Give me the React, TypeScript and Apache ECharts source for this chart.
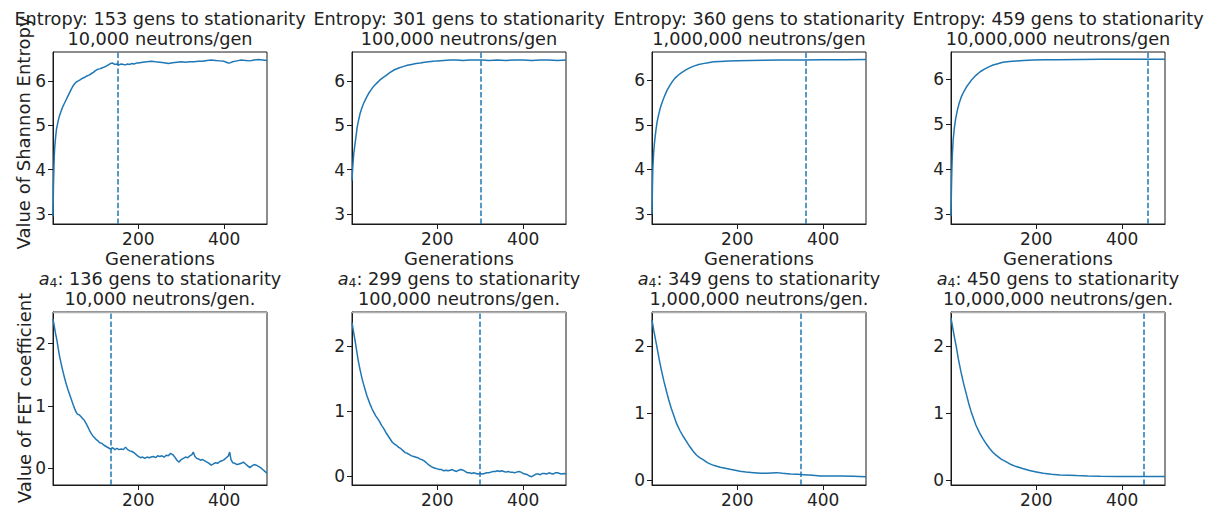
import React, { useEffect, useRef } from "react";
import * as echarts from "echarts";

// ---------- data ----------
const NEUTRONS = ["10,000", "100,000", "1,000,000", "10,000,000"];
const ENTROPY_STAT = [153, 301, 360, 459];
const A4_STAT = [136, 299, 349, 450];
const X_TICKS = [200, 400];
const TOP_TICKS = [3, 4, 5, 6];
const BOTTOM_TICKS = [0, 1, 2];

// Entropy, 10,000 neutrons/gen
const GEN_E1 = [1, 2, 3, 4, 5, 7, 9, 12, 16, 20, 24, 28, 32, 36, 40, 44, 48, 52, 56, 60, 65, 70, 75, 80, 85, 90, 95, 100, 105, 110, 115, 120, 125, 130, 135, 140, 145, 150, 155, 160, 165, 170, 175, 180, 185, 190, 195, 200, 210, 220, 230, 240, 250, 260, 270, 280, 290, 300, 310, 320, 330, 340, 350, 360, 370, 380, 390, 400, 405, 410, 415, 420, 430, 440, 450, 460, 470, 480, 490, 500];
const VAL_E1 = [2.95, 3.6, 4.0, 4.3, 4.5, 4.72, 4.9, 5.05, 5.21, 5.32, 5.42, 5.5, 5.58, 5.66, 5.74, 5.82, 5.89, 5.94, 5.98, 6.0, 6.03, 6.06, 6.08, 6.11, 6.13, 6.16, 6.19, 6.23, 6.26, 6.27, 6.29, 6.31, 6.33, 6.36, 6.39, 6.4, 6.37, 6.38, 6.36, 6.38, 6.37, 6.36, 6.38, 6.37, 6.39, 6.38, 6.4, 6.4, 6.42, 6.43, 6.44, 6.43, 6.42, 6.41, 6.39, 6.41, 6.42, 6.43, 6.42, 6.43, 6.43, 6.44, 6.44, 6.46, 6.47, 6.46, 6.45, 6.44, 6.42, 6.4, 6.41, 6.43, 6.45, 6.47, 6.46, 6.45, 6.47, 6.48, 6.47, 6.46];

// Entropy, 100,000 neutrons/gen
const GEN_E2 = [1, 3, 5, 7, 10, 13, 16, 20, 24, 28, 32, 36, 40, 45, 50, 55, 60, 65, 70, 80, 90, 100, 110, 120, 130, 140, 150, 160, 170, 180, 190, 200, 215, 230, 245, 260, 275, 290, 305, 320, 340, 360, 380, 400, 420, 440, 460, 480, 500];
const VAL_E2 = [3.75, 4.1, 4.35, 4.5, 4.72, 4.95, 5.1, 5.27, 5.39, 5.49, 5.57, 5.65, 5.72, 5.79, 5.86, 5.91, 5.96, 6.01, 6.05, 6.12, 6.19, 6.25, 6.29, 6.32, 6.35, 6.37, 6.39, 6.4, 6.42, 6.43, 6.44, 6.45, 6.46, 6.47, 6.47, 6.46, 6.47, 6.47, 6.47, 6.46, 6.47, 6.46, 6.47, 6.47, 6.46, 6.47, 6.47, 6.46, 6.47];

// Entropy, 1,000,000 neutrons/gen
const GEN_E3 = [1, 2, 3, 5, 7, 10, 13, 17, 21, 26, 31, 36, 42, 48, 54, 62, 70, 80, 90, 100, 110, 120, 132, 145, 160, 180, 200, 230, 260, 300, 350, 400, 450, 500];
const VAL_E3 = [3.0, 3.6, 4.03, 4.4, 4.62, 4.87, 5.07, 5.25, 5.4, 5.54, 5.66, 5.77, 5.87, 5.96, 6.04, 6.11, 6.17, 6.23, 6.28, 6.32, 6.35, 6.37, 6.39, 6.41, 6.42, 6.43, 6.435, 6.44, 6.445, 6.45, 6.45, 6.455, 6.455, 6.46];

// Entropy, 10,000,000 neutrons/gen
const GEN_E4 = [1, 2, 3, 4, 6, 9, 12, 16, 20, 25, 31, 37, 43, 50, 59, 69, 79, 89, 99, 110, 122, 137, 153, 170, 192, 220, 250, 300, 350, 400, 450, 500];
const VAL_E4 = [2.95, 3.55, 3.99, 4.3, 4.65, 4.93, 5.13, 5.32, 5.47, 5.61, 5.73, 5.83, 5.91, 6.0, 6.09, 6.17, 6.23, 6.28, 6.32, 6.35, 6.38, 6.4, 6.41, 6.42, 6.43, 6.435, 6.44, 6.445, 6.45, 6.45, 6.45, 6.45];

// a4, 10,000 neutrons/gen
const GEN_A1 = [1, 4, 7, 10, 13, 16, 20, 24, 28, 32, 36, 40, 44, 48, 52, 55, 58, 62, 66, 70, 74, 78, 82, 86, 90, 94, 98, 102, 106, 110, 115, 120, 125, 130, 135, 140, 145, 150, 155, 160, 165, 170, 175, 180, 185, 190, 195, 200, 205, 210, 215, 220, 225, 230, 235, 240, 245, 250, 255, 260, 265, 270, 275, 280, 285, 290, 295, 300, 305, 310, 315, 320, 325, 328, 332, 336, 340, 345, 350, 355, 360, 365, 370, 375, 380, 385, 390, 395, 400, 405, 410, 413, 416, 420, 425, 430, 435, 440, 445, 450, 455, 460, 465, 470, 475, 480, 485, 490, 495, 500];
const VAL_A1 = [2.4, 2.28, 2.16, 2.06, 1.93, 1.81, 1.68, 1.56, 1.45, 1.35, 1.26, 1.18, 1.1, 1.02, 0.95, 0.9, 0.87, 0.86, 0.83, 0.8, 0.77, 0.72, 0.67, 0.61, 0.56, 0.52, 0.49, 0.46, 0.44, 0.41, 0.4, 0.37, 0.35, 0.33, 0.31, 0.33, 0.3, 0.32, 0.3, 0.31, 0.3, 0.34, 0.3, 0.28, 0.27, 0.25, 0.22, 0.19, 0.17, 0.18, 0.16, 0.18, 0.17, 0.18, 0.19, 0.17, 0.2, 0.19, 0.2, 0.18, 0.21, 0.2, 0.24, 0.22, 0.18, 0.13, 0.1, 0.14, 0.16, 0.18, 0.17, 0.2, 0.22, 0.26, 0.19, 0.16, 0.15, 0.13, 0.14, 0.12, 0.1, 0.08, 0.05, 0.07, 0.09, 0.08, 0.11, 0.12, 0.14, 0.17, 0.2, 0.26, 0.14, 0.09, 0.08, 0.06, 0.07, 0.08, 0.1, 0.07, 0.04, 0.01, 0.04, 0.06, 0.05, 0.03, 0.01, -0.02, -0.05, -0.08];

// a4, 100,000 neutrons/gen
const GEN_A2 = [1, 5, 9, 13, 16, 20, 24, 28, 32, 36, 40, 44, 48, 52, 56, 60, 65, 70, 75, 80, 85, 90, 95, 100, 105, 110, 115, 120, 125, 130, 135, 140, 145, 150, 155, 160, 165, 170, 175, 180, 185, 190, 195, 200, 205, 210, 215, 220, 225, 230, 235, 240, 245, 250, 255, 260, 265, 270, 275, 280, 285, 290, 295, 300, 305, 310, 315, 320, 325, 330, 335, 340, 345, 350, 355, 360, 365, 370, 375, 380, 385, 390, 395, 400, 405, 410, 415, 420, 425, 430, 435, 440, 445, 450, 455, 460, 465, 470, 475, 480, 485, 490, 495, 500];
const VAL_A2 = [2.36, 2.2, 2.05, 1.88, 1.76, 1.63, 1.51, 1.41, 1.32, 1.23, 1.16, 1.09, 1.03, 0.98, 0.93, 0.89, 0.84, 0.78, 0.73, 0.67, 0.62, 0.57, 0.52, 0.49, 0.47, 0.44, 0.42, 0.39, 0.36, 0.35, 0.33, 0.31, 0.3, 0.29, 0.28, 0.26, 0.25, 0.23, 0.2, 0.17, 0.15, 0.13, 0.12, 0.11, 0.1, 0.1, 0.08, 0.09, 0.08, 0.09, 0.1, 0.08, 0.07, 0.09, 0.1, 0.09, 0.07, 0.05, 0.05, 0.04, 0.05, 0.04, 0.03, 0.04, 0.03, 0.04, 0.05, 0.05, 0.06, 0.07, 0.07, 0.08, 0.07, 0.08, 0.07, 0.06, 0.07, 0.06, 0.06, 0.05, 0.06, 0.07, 0.06, 0.04, 0.03, 0.02, 0.0, -0.01, 0.01, 0.03, 0.03, 0.02, 0.04, 0.04, 0.03, 0.05, 0.04, 0.03, 0.05, 0.05, 0.04, 0.03, 0.04, 0.03];

// a4, 1,000,000 neutrons/gen
const GEN_A3 = [1, 5, 11, 17, 23, 29, 35, 40, 46, 52, 58, 66, 74, 82, 89, 97, 105, 113, 121, 130, 140, 150, 160, 172, 183, 195, 206, 220, 238, 255, 269, 280, 292, 305, 324, 340, 355, 375, 394, 420, 441, 470, 500];
const VAL_A3 = [2.39, 2.24, 2.04, 1.83, 1.64, 1.47, 1.32, 1.2, 1.07, 0.96, 0.85, 0.74, 0.65, 0.57, 0.5, 0.43, 0.37, 0.33, 0.3, 0.26, 0.23, 0.21, 0.19, 0.175, 0.16, 0.145, 0.13, 0.12, 0.11, 0.1, 0.1, 0.105, 0.11, 0.1, 0.09, 0.085, 0.08, 0.07, 0.06, 0.06, 0.06, 0.055, 0.05];

// a4, 10,000,000 neutrons/gen
const GEN_A4 = [1, 5, 9, 13, 18, 24, 30, 36, 42, 48, 54, 59, 67, 75, 83, 91, 99, 106, 118, 130, 141, 153, 168, 184, 200, 216, 235, 255, 275, 294, 320, 349, 390, 427, 460, 500];
const VAL_A4 = [2.42, 2.27, 2.13, 2.0, 1.81, 1.62, 1.45, 1.3, 1.15, 1.02, 0.91, 0.82, 0.71, 0.62, 0.54, 0.47, 0.41, 0.37, 0.31, 0.27, 0.23, 0.2, 0.17, 0.14, 0.12, 0.1, 0.087, 0.075, 0.07, 0.065, 0.06, 0.055, 0.052, 0.05, 0.05, 0.05];

const TOP_GENS = [GEN_E1, GEN_E2, GEN_E3, GEN_E4];
const TOP_VALS = [VAL_E1, VAL_E2, VAL_E3, VAL_E4];
const BOT_GENS = [GEN_A1, GEN_A2, GEN_A3, GEN_A4];
const BOT_VALS = [VAL_A1, VAL_A2, VAL_A3, VAL_A4];

// axis ranges (matplotlib auto-limits as seen in the figure)
const TOP_YMIN = [2.775, 2.775, 2.78, 2.78];
const TOP_YMAX = [6.65, 6.65, 6.63, 6.61];
const BOT_YMIN = [-0.268, -0.138, -0.075, -0.075];
const BOT_YMAX = [2.509, 2.523, 2.512, 2.507];

// ---------- layout ----------
const FONT = "DejaVu Sans";
const TEXT = "#222";
const SPINE = "#1a1a1a";
const BLUE = "#1f77b4";
const COL_LEFT = [53, 352, 652, 951];
const PW = 214;
const TOP_Y = 52;
const TOP_H = 172;
const BOT_Y = 312;
const BOT_H = 173;
const TITLE_FS = 17.7;
const TICK_FS = 17;
const LABEL_FS = 18;

export default function App() {
  const ref = useRef<HTMLDivElement>(null);
  useEffect(() => {
    if (!ref.current) return;
    const chart = echarts.init(ref.current, null, { renderer: "svg" });
    const grid: any[] = [];
    const xAxis: any[] = [];
    const yAxis: any[] = [];
    const series: any[] = [];
    const graphic: any[] = [];

    const mkX = (gi: number) => ({
      type: "value",
      gridIndex: gi,
      min: 1,
      max: 500,
      axisLine: { show: true, onZero: false, lineStyle: { color: SPINE, width: 1 } },
      axisTick: { show: true, customValues: X_TICKS, length: 5, lineStyle: { color: SPINE } },
      axisLabel: { customValues: X_TICKS, fontSize: TICK_FS, color: TEXT, fontFamily: FONT, margin: 6 },
      splitLine: { show: false },
    });
    const mkY = (gi: number, mn: number, mx: number, ticks: number[]) => ({
      type: "value",
      gridIndex: gi,
      min: mn,
      max: mx,
      axisLine: { show: true, onZero: false, lineStyle: { color: SPINE, width: 1 } },
      axisTick: { show: true, customValues: ticks, length: 5, lineStyle: { color: SPINE } },
      axisLabel: { customValues: ticks, fontSize: TICK_FS, color: TEXT, fontFamily: FONT, margin: 7 },
      splitLine: { show: false },
    });
    const mkSeries = (gi: number, gens: number[], vals: number[], stat: number) => ({
      type: "line",
      xAxisIndex: gi,
      yAxisIndex: gi,
      data: gens.map((g, k) => [g, vals[k]]),
      showSymbol: false,
      symbol: "none",
      lineStyle: { color: BLUE, width: 1.5 },
      silent: true,
      markLine: {
        silent: true,
        symbol: "none",
        label: { show: false },
        lineStyle: { color: BLUE, width: 1.5, type: [5.5, 2.4] },
        data: [{ xAxis: stat }],
      },
    });
    const txt = (x: number, y: number, text: string, fs: number, extra: any = {}) => ({
      type: "text", x, y, z: 10,
      style: { text, font: `${fs}px '${FONT}'`, fill: TEXT, textAlign: "center", textVerticalAlign: "middle", ...extra },
    });

    for (let c = 0; c < 4; c++) {
      const gi = c;
      grid.push({ left: COL_LEFT[c], top: TOP_Y, width: PW, height: TOP_H, show: true, borderColor: SPINE, borderWidth: 1, backgroundColor: "transparent" });
      xAxis.push(mkX(gi));
      yAxis.push(mkY(gi, TOP_YMIN[c], TOP_YMAX[c], TOP_TICKS));
      series.push(mkSeries(gi, TOP_GENS[c], TOP_VALS[c], ENTROPY_STAT[c]));
      const cx = COL_LEFT[c] + PW / 2;
      graphic.push(txt(cx, 19, `Entropy: ${ENTROPY_STAT[c]} gens to stationarity`, TITLE_FS));
      graphic.push(txt(cx, 39, `${NEUTRONS[c]} neutrons/gen`, TITLE_FS));
      graphic.push(txt(cx, 258, "Generations", LABEL_FS));
    }
    for (let c = 0; c < 4; c++) {
      const gi = 4 + c;
      grid.push({ left: COL_LEFT[c], top: BOT_Y, width: PW, height: BOT_H, show: true, borderColor: SPINE, borderWidth: 1, backgroundColor: "transparent" });
      xAxis.push(mkX(gi));
      yAxis.push(mkY(gi, BOT_YMIN[c], BOT_YMAX[c], BOTTOM_TICKS));
      series.push(mkSeries(gi, BOT_GENS[c], BOT_VALS[c], A4_STAT[c]));
      const cx = COL_LEFT[c] + PW / 2;
      graphic.push({
        type: "line", z: 20,
        shape: { x1: COL_LEFT[c], y1: BOT_Y + 0.5, x2: COL_LEFT[c] + PW, y2: BOT_Y + 0.5 },
        style: { stroke: "#b0b0b0", lineWidth: 1.5 },
      });
      graphic.push(txt(cx, 279, `{it|a}{sub|4}: ${A4_STAT[c]} gens to stationarity`, TITLE_FS, {
        rich: {
          it: { fontStyle: "italic", fontSize: TITLE_FS, fontFamily: FONT, fill: TEXT },
          sub: { fontSize: 12.5, fontFamily: FONT, fill: TEXT, padding: [7, 0, 0, 0] },
        },
      }));
      graphic.push(txt(cx, 299, `${NEUTRONS[c]} neutrons/gen.`, TITLE_FS));
    }
    graphic.push({ ...txt(23, 133, "Value of Shannon Entropy", LABEL_FS), rotation: Math.PI / 2 });
    graphic.push({ ...txt(24, 398, "Value of FET coefficient", LABEL_FS), rotation: Math.PI / 2 });

    chart.setOption({
      animation: false,
      backgroundColor: "#ffffff",
      textStyle: { fontFamily: FONT },
      grid,
      xAxis,
      yAxis,
      series,
      graphic,
    });
    return () => chart.dispose();
  }, []);
  return <div ref={ref} style={{ position: "absolute", left: 0, top: 0, width: 1220, height: 508 }} />;
}
